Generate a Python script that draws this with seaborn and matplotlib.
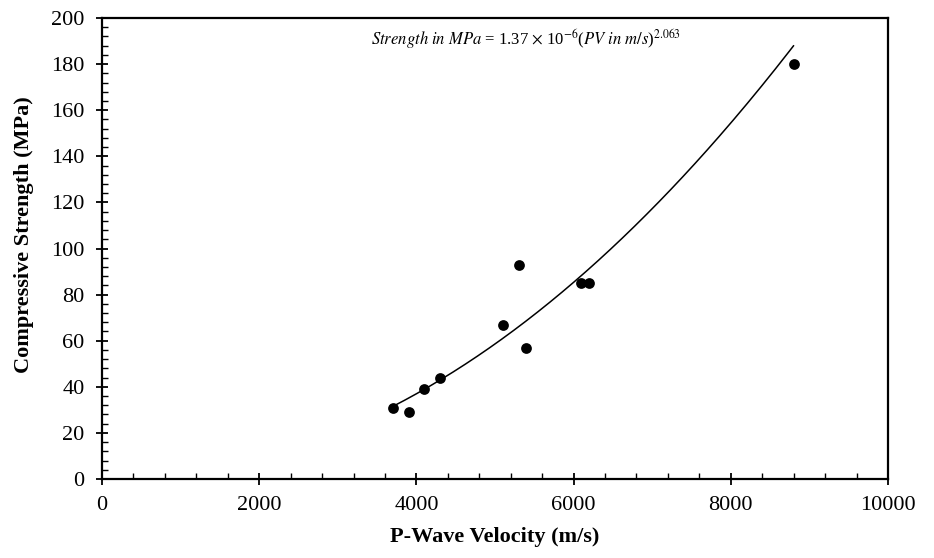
import numpy as np
import pandas as pd
import matplotlib
matplotlib.use("Agg")
import matplotlib.pyplot as plt
import seaborn as sns
from matplotlib.ticker import MultipleLocator

# Data
velocity = [3700, 3900, 4100, 4300, 5100, 5300, 5400, 6100, 6200, 8800]
strength = [31, 29, 39, 44, 67, 93, 57, 85, 85, 180]

# Power trendline coefficients as printed on the chart
coef_a = 1.37e-6
coef_b = 2.063

sns.set_style("white")
plt.rcParams["font.family"] = ["Liberation Serif", "DejaVu Serif"]
plt.rcParams["mathtext.fontset"] = "stix"
plt.rcParams["text.color"] = "black"
plt.rcParams["axes.labelcolor"] = "black"

df = pd.DataFrame({"v": velocity, "s": strength})
xfit = np.linspace(min(velocity), max(velocity), 200)
fit = pd.DataFrame({"v": xfit, "s": coef_a * xfit ** coef_b})

fig = plt.figure(figsize=(9.34, 5.58), dpi=100)
ax = fig.add_axes([0.1092, 0.1416, 0.8415, 0.8261])

sns.lineplot(data=fit, x="v", y="s", ax=ax, color="black", linewidth=1.1)
sns.scatterplot(data=df, x="v", y="s", ax=ax, color="black", s=60,
                edgecolor="black", linewidth=0, zorder=3)

ax.set_xlim(0, 10000)
ax.set_ylim(0, 200)
ax.xaxis.set_major_locator(MultipleLocator(2000))
ax.xaxis.set_minor_locator(MultipleLocator(400))
ax.yaxis.set_major_locator(MultipleLocator(20))
ax.yaxis.set_minor_locator(MultipleLocator(4))

for sp in ax.spines.values():
    sp.set_visible(True)
    sp.set_color("black")
    sp.set_linewidth(1.6)

ax.tick_params(axis="x", which="both", bottom=True, top=False)
ax.tick_params(axis="y", which="both", left=True, right=False)
ax.tick_params(which="major", direction="inout", length=9, width=1.3,
               labelsize=16, colors="black", pad=8)
ax.tick_params(which="minor", direction="in", length=4, width=1.0,
               colors="black")

ax.set_xlabel("P-Wave Velocity (m/s)", fontsize=16, fontweight="bold",
              color="black")
ax.set_ylabel("Compressive Strength (MPa)", fontsize=16, fontweight="bold",
              color="black")
ax.xaxis.set_label_coords(0.5, -0.105)
ax.yaxis.set_label_coords(-0.087, 0.53)

eq = (r"$\it{Strength\ in\ MPa}$ = 1.37 $\times$ 10$^{-6}$"
      r"($\it{PV\ in\ m/s}$)$^{2.063}$")
ax.text(5400, 191, eq, fontsize=12, ha="center", va="center",
        color="black")

fig.savefig("out.png", dpi=100)
